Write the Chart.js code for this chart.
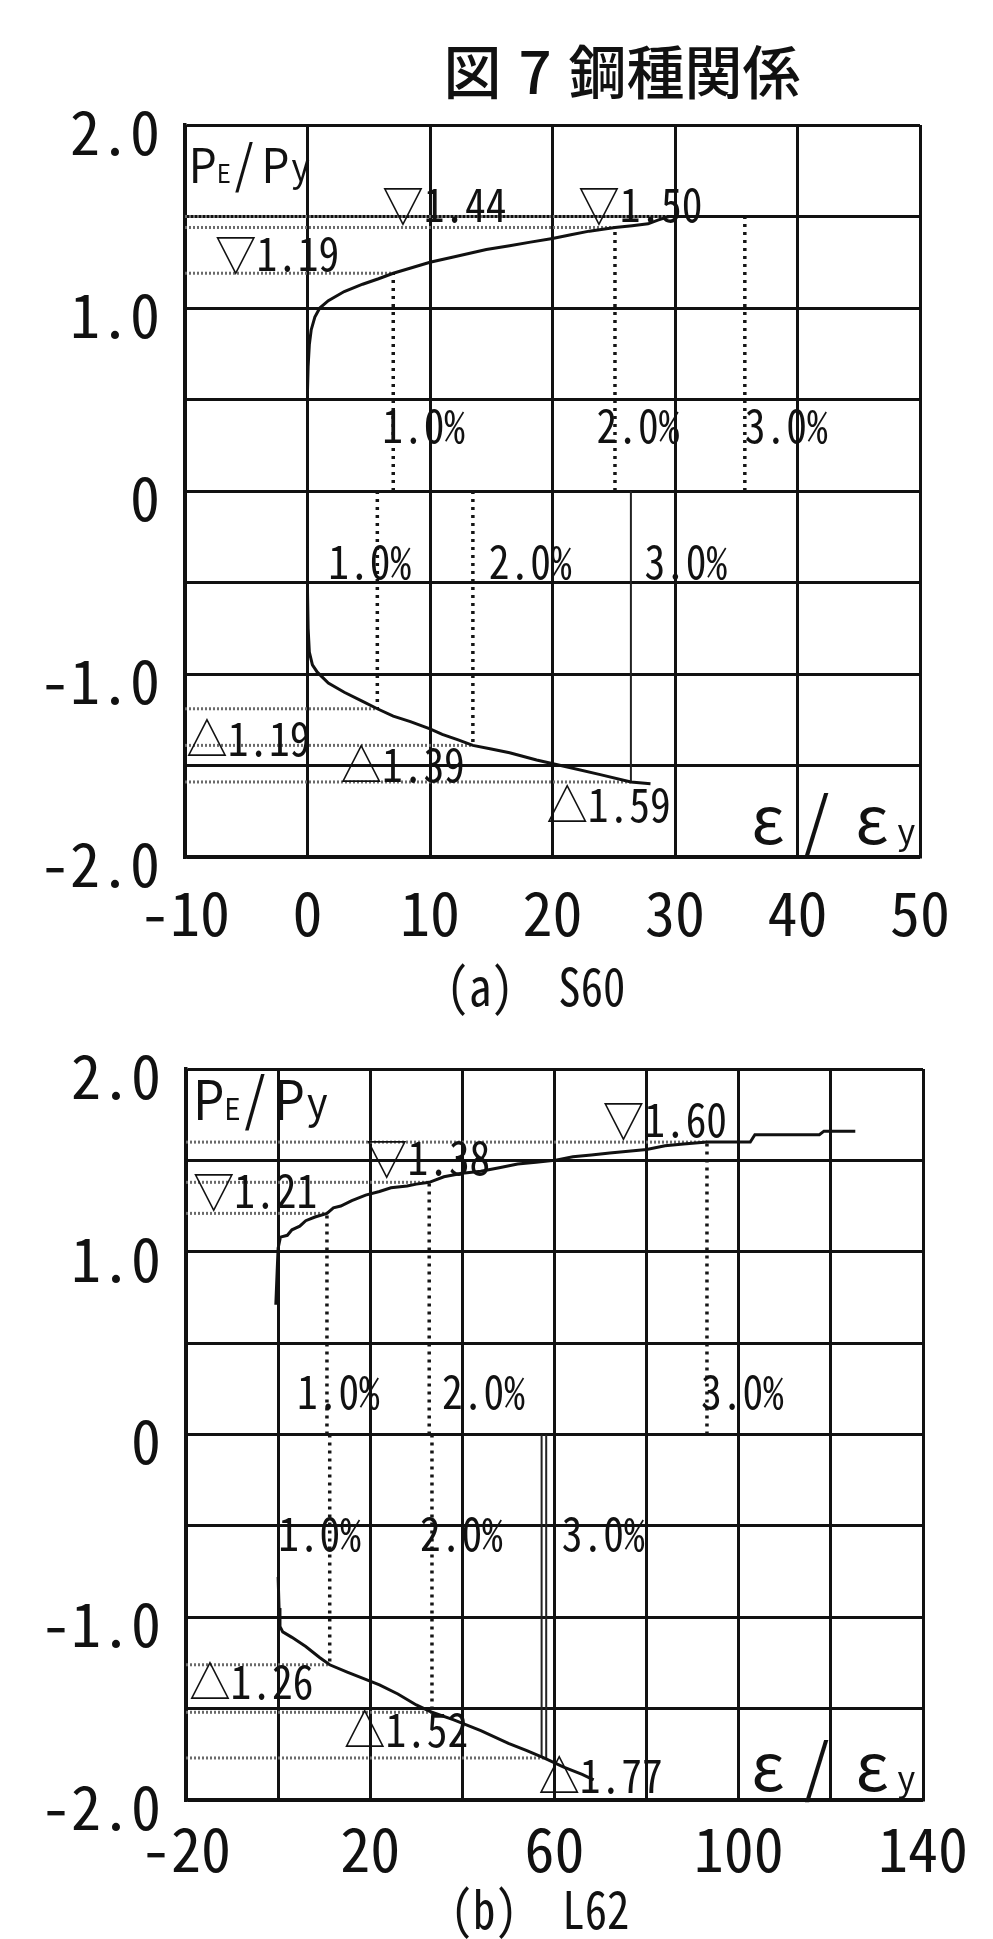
<!DOCTYPE html>
<html>
<head>
<meta charset="utf-8">
<script src="https://cdn.jsdelivr.net/npm/chart.js@4.4.1/dist/chart.umd.min.js"></script>
<style>
  html, body { margin: 0; padding: 0; background: #fff; }
  body { position: relative; width: 993px; height: 1939px; overflow: hidden; }
  canvas { position: absolute; left: 0; }
  .cap { position: absolute; white-space: pre; color: #111; line-height: 1; }
  #fig-title { font-family: 'Noto Sans CJK JP', sans-serif; font-weight: 500; font-size: 58px;
               left: 622px; top: 40px; word-spacing: 4px; transform: translateX(-50%); }
  .sub { font-family: 'Noto Sans Mono CJK JP', 'Liberation Mono', monospace; font-size: 52px;
         transform: translateX(-50%) scaleX(0.86); }
</style>
</head>
<body>
<div id="fig-title" class="cap">図 7 鋼種関係</div>
<canvas id="chartS60" width="993" height="960" style="top:0"></canvas>
<div id="capS60" class="cap sub" style="left:536px; top:958px">(a)  S60</div>
<canvas id="chartL62" width="993" height="979" style="top:960px"></canvas>
<div id="capL62" class="cap sub" style="left:540px; top:1881px">(b)  L62</div>

<script>
// ---- values ----------------------------------------------------------
// tick labels
const yTickLabels = [-2, -1, 0, 1, 2];
const xTicksS60 = [-10, 0, 10, 20, 30, 40, 50];
const xTicksL62 = [-20, 20, 60, 100, 140];
const strainLevels = ['1.0%', '2.0%', '3.0%'];

// S60: load ratio PE/Py against strain ratio ε/εy
const s60Tension = [[0.0,0.37],[0.0,0.55],[0.05,0.68],[0.15,0.80],[0.3,0.88],[0.6,0.95],[1.0,1.00],
  [1.7,1.04],[3.0,1.09],[4.5,1.13],[5.8,1.16],[7.0,1.19],[8.5,1.22],[10.0,1.25],[12.0,1.28],
  [14.6,1.32],[16.5,1.34],[18.2,1.36],[20.0,1.38],[21.5,1.40],[23.0,1.42],[25.1,1.44],[26.5,1.45],
  [27.8,1.46],[28.6,1.48],[29.5,1.50],[35.7,1.50]];
const s60Compression = [[0.0,-0.31],[0.0,-0.55],[0.05,-0.75],[0.15,-0.88],[0.4,-0.95],[0.8,-0.99],
  [1.7,-1.05],[3.0,-1.10],[4.5,-1.15],[5.7,-1.19],[7.0,-1.23],[8.4,-1.26],[10.0,-1.30],[11.0,-1.33],
  [12.3,-1.36],[13.5,-1.39],[15.0,-1.41],[16.5,-1.43],[18.7,-1.47],[21.3,-1.51],[23.9,-1.55],
  [26.4,-1.59],[28.0,-1.60]];
const s60TenStrain = [7.0, 25.1, 35.7];
const s60TenPeak = [1.19, 1.44, 1.50];
const s60CmpStrain = [5.7, 13.5, 26.4];
const s60CmpPeak = [1.19, 1.39, 1.59];

// L62
const l62Tension = [[-0.5,0.71],[-0.2,0.90],[0.0,1.02],[0.5,1.08],[2.0,1.09],[3.0,1.12],[4.7,1.14],
  [6.0,1.17],[8.0,1.19],[10.6,1.21],[12.0,1.24],[13.6,1.25],[16.0,1.28],[19.0,1.31],[22.0,1.33],
  [24.5,1.35],[28.0,1.36],[30.0,1.37],[32.8,1.38],[36.0,1.41],[40.0,1.43],[44.0,1.44],[48.0,1.46],
  [52.0,1.48],[56.0,1.49],[60.0,1.50],[64.0,1.52],[68.0,1.53],[72.0,1.54],[76.0,1.55],[80.0,1.56],
  [84.0,1.58],[88.0,1.59],[93.1,1.60],[102.5,1.60],[103.5,1.64],[117.5,1.64],[118.5,1.66],[125.3,1.66]];
const l62Compression = [[0.0,-0.78],[0.2,-0.95],[0.4,-1.05],[1.0,-1.08],[3.0,-1.11],[6.0,-1.16],
  [9.0,-1.22],[11.2,-1.26],[15.0,-1.30],[19.0,-1.34],[22.0,-1.37],[26.0,-1.42],[30.0,-1.48],
  [33.4,-1.52],[38.0,-1.56],[44.0,-1.62],[50.0,-1.69],[54.0,-1.73],[57.7,-1.77],[62.0,-1.82],
  [66.0,-1.86],[68.5,-1.89]];
const l62TenStrain = [10.6, 32.8, 93.1];
const l62TenPeak = [1.21, 1.38, 1.60];
const l62CmpStrain = [11.2, 33.4, 57.7];
const l62CmpPeak = [1.26, 1.52, 1.77];

// ---- styling ---------------------------------------------------------
const INK = '#111';
const MONO = "'Noto Sans Mono CJK JP', 'Liberation Mono', 'DejaVu Sans Mono', monospace";
const SANS = "'Noto Sans CJK JP', 'DejaVu Sans', sans-serif";

function curve(points) {
  return { data: points.map(([x, y]) => ({ x, y })), showLine: true, pointRadius: 0,
           borderColor: INK, borderWidth: 3, tension: 0 };
}
function guide(x0, y0, x1, y1, kind) {
  const vertical = x0 === x1;
  const ds = { data: [{ x: x0, y: y0 }, { x: x1, y: y1 }], showLine: true, pointRadius: 0, tension: 0 };
  if (kind === 'solid') Object.assign(ds, { borderColor: '#222', borderWidth: 2 });
  else if (vertical) Object.assign(ds, { borderColor: '#151515', borderWidth: 3.5, borderDash: [3, 5] });
  else Object.assign(ds, { borderColor: '#6a6a6a', borderWidth: 3, borderDash: [2, 2] });
  return ds;
}
function fmt2(v) { return v.toFixed(2); }

// text annotations drawn in data space
const notesPlugin = {
  id: 'notes',
  afterDatasetsDraw(chart, args, opts) {
    const { ctx } = chart;
    const sx = chart.scales.x, sy = chart.scales.y;
    ctx.save();
    ctx.fillStyle = INK;
    ctx.textBaseline = 'alphabetic';
    for (const item of opts.items) {
      let px = sx.getPixelForValue(item.x);
      const py = sy.getPixelForValue(item.y);
      const squeeze = item.squeeze || 0.9;
      let total = 0;
      for (const r of item.runs) {
        ctx.font = `${r.size}px ${r.family || MONO}`;
        total += ctx.measureText(r.t).width * squeeze + (r.gap || 0);
      }
      if (item.align === 'right') px -= total;
      let cx = px;
      for (const r of item.runs) {
        ctx.font = `${r.size}px ${r.family || MONO}`;
        ctx.save();
        ctx.translate(cx + (r.gap || 0), py + (r.dy || 0));
        ctx.scale(squeeze, 1);
        ctx.fillText(r.t, 0, 0);
        ctx.restore();
        cx += ctx.measureText(r.t).width * squeeze + (r.gap || 0);
      }
    }
    ctx.restore();
  }
};

function plain(text, x, y, size) { return { x, y, runs: [{ t: text, size: size || 46 }] }; }
function ratioLabel(x, y, big) {
  return { x, y, squeeze: 0.92, runs: [
    { t: 'P', size: big, family: SANS }, { t: 'E', size: Math.round(big * 0.55), family: SANS },
    { t: '/', size: big + 4, family: SANS, gap: 4 }, { t: 'P', size: big, family: SANS, gap: 8 },
    { t: 'y', size: Math.round(big * 0.8), family: SANS, dy: -2, gap: 2 } ] };
}
function strainLabel(x, y) {
  return { x, y, align: 'right', squeeze: 1, runs: [
    { t: 'ε', size: 66, family: SANS }, { t: '/', size: 64, family: SANS, gap: 20 },
    { t: 'ε', size: 66, family: SANS, gap: 26 }, { t: 'y', size: 34, family: SANS, gap: 9 } ] };
}

function buildChart(canvasId, cfg) {
  const xTickSet = cfg.xTicks;
  return new Chart(document.getElementById(canvasId), {
    type: 'scatter',
    data: { datasets: cfg.datasets },
    plugins: [notesPlugin],
    options: {
      responsive: false,
      animation: false,
      events: [],
      layout: { padding: cfg.padding },
      plugins: { legend: { display: false }, tooltip: { enabled: false }, notes: { items: cfg.notes } },
      scales: {
        x: {
          type: 'linear', min: cfg.xMin, max: cfg.xMax,
          grid: { color: INK, lineWidth: 3, drawTicks: false },
          border: { color: INK, width: 3.5 },
          ticks: { stepSize: cfg.xStep, autoSkip: false, maxRotation: 0, padding: cfg.xPad,
                   color: INK, font: { family: MONO, size: 60 },
                   callback: v => xTickSet.includes(v) ? String(v) : '' },
          afterFit: s => { s.height = 100; }
        },
        y: {
          type: 'linear', min: -2, max: 2,
          grid: { color: INK, lineWidth: 3, drawTicks: false },
          border: { color: INK, width: 3.5 },
          ticks: { stepSize: 0.5, autoSkip: false, padding: 25, labelOffset: 7,
                   color: INK, font: { family: MONO, size: 60 },
                   callback: v => yTickLabels.includes(v) ? (v === 0 ? '0' : v.toFixed(1)) : '' },
          afterFit: s => { s.width = cfg.yWidth; }
        }
      }
    }
  });
}

function guidesFor(xMin, tenStrain, tenPeak, cmpStrain, cmpPeak, solidThird) {
  const out = [];
  tenStrain.forEach((sx, i) => {
    out.push(guide(sx, 0, sx, tenPeak[i], 'dot'));
    out.push(guide(xMin, tenPeak[i], sx, tenPeak[i], 'dot'));
  });
  cmpStrain.forEach((sx, i) => {
    out.push(guide(xMin, -cmpPeak[i], sx, -cmpPeak[i], 'dot'));
    if (i < 2) out.push(guide(sx, 0, sx, -cmpPeak[i], 'dot'));
    else solidThird.forEach(dx => out.push(guide(sx + dx, 0, sx + dx, -cmpPeak[i], 'solid')));
  });
  return out;
}

// (a) S60
buildChart('chartS60', {
  xMin: -10, xMax: 50, xStep: 10, xTicks: xTicksS60, xPad: 20,
  yWidth: 185, padding: { left: 0, right: 73, top: 125, bottom: 3 },
  datasets: [curve(s60Tension), curve(s60Compression),
             ...guidesFor(-10, s60TenStrain, s60TenPeak, s60CmpStrain, s60CmpPeak, [0])],
  notes: [
    ratioLabel(-9.7, 1.685, 48),
    plain('▽' + fmt2(s60TenPeak[0]), -7.55, 1.20),
    plain('▽' + fmt2(s60TenPeak[1]), 6.1, 1.47),
    plain('▽' + fmt2(s60TenPeak[2]), 22.1, 1.47),
    plain(strainLevels[0], 6.1, 0.26), plain(strainLevels[1], 23.6, 0.26), plain(strainLevels[2], 35.7, 0.26),
    plain(strainLevels[0], 1.7, -0.48), plain(strainLevels[1], 14.8, -0.48), plain(strainLevels[2], 27.5, -0.48),
    plain('△' + fmt2(s60CmpPeak[0]), -9.9, -1.45),
    plain('△' + fmt2(s60CmpPeak[1]), 2.7, -1.59),
    plain('△' + fmt2(s60CmpPeak[2]), 19.5, -1.81),
    strainLabel(49.6, -1.93)
  ]
});

// (b) L62
buildChart('chartL62', {
  xMin: -20, xMax: 140, xStep: 20, xTicks: xTicksL62, xPad: 13,
  yWidth: 186, padding: { left: 0, right: 70, top: 109, bottom: 39 },
  datasets: [curve(l62Tension), curve(l62Compression),
             ...guidesFor(-20, l62TenStrain, l62TenPeak, l62CmpStrain, l62CmpPeak, [-0.5, 0.5])],
  notes: [
    ratioLabel(-18.5, 1.72, 54),
    plain('▽' + fmt2(l62TenPeak[0]), -18.5, 1.24),
    plain('▽' + fmt2(l62TenPeak[1]), 19.1, 1.42),
    plain('▽' + fmt2(l62TenPeak[2]), 70.5, 1.63),
    plain(strainLevels[0], 4.1, 0.14), plain(strainLevels[1], 35.6, 0.14), plain(strainLevels[2], 91.8, 0.14),
    plain(strainLevels[0], 0.0, -0.64), plain(strainLevels[1], 30.8, -0.64), plain(strainLevels[2], 61.6, -0.64),
    plain('△' + fmt2(l62CmpPeak[0]), -19.3, -1.45),
    plain('△' + fmt2(l62CmpPeak[1]), 14.3, -1.71),
    plain('△' + fmt2(l62CmpPeak[2]), 56.5, -1.96),
    strainLabel(138.3, -1.95)
  ]
});
</script>
</body>
</html>
